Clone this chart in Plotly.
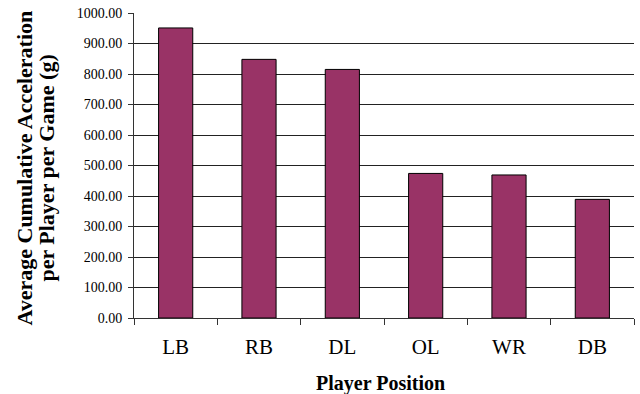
import plotly.graph_objects as go

positions = ["LB", "RB", "DL", "OL", "WR", "DB"]
accel = [951, 848, 815, 474, 469, 389]
y_ticks = [0, 100, 200, 300, 400, 500, 600, 700, 800, 900, 1000]

FONT = "Liberation Serif"

fig = go.Figure(go.Bar(
    x=positions, y=accel,
    marker=dict(color="#993366", line=dict(color="black", width=1)),
))

fig.update_layout(
    width=640, height=394,
    margin=dict(l=134, r=6, t=13, b=76),
    paper_bgcolor="white", plot_bgcolor="white",
    bargap=0.59,
    showlegend=False,
    font=dict(family=FONT, color="black"),
    xaxis=dict(
        type="category",
        showline=True, linecolor="#333", linewidth=1,
        ticks="outside", tickson="boundaries", ticklen=6, tickcolor="#333",
        tickfont=dict(size=21, family=FONT),
        ticklabelstandoff=10,
        showgrid=False,
    ),
    yaxis=dict(
        range=[0, 1000],
        tickvals=y_ticks, tickformat=".2f",
        showline=True, linecolor="#333", linewidth=1,
        ticks="outside", ticklen=5, tickcolor="#333",
        tickfont=dict(size=14, family=FONT),
        ticklabelstandoff=3,
        showgrid=True, gridcolor="#222", gridwidth=1,
        zeroline=False,
    ),
    annotations=[
        dict(text="<b>Average Cumulative Acceleration</b>", textangle=-90,
             xref="paper", yref="paper", x=(25 - 134) / 500, y=0.49,
             xanchor="center", yanchor="middle", showarrow=False,
             font=dict(size=22, family=FONT, color="black")),
        dict(text="<b>per Player per Game (g)</b>", textangle=-90,
             xref="paper", yref="paper", x=(47 - 134) / 500, y=0.49,
             xanchor="center", yanchor="middle", showarrow=False,
             font=dict(size=22, family=FONT, color="black")),
        dict(text="<b>Player Position</b>",
             xref="paper", yref="paper", x=(380 - 134) / 500, y=-(383 - 318) / 305,
             xanchor="center", yanchor="middle", showarrow=False,
             font=dict(size=20, family=FONT, color="black")),
    ],
)

fig.write_html("out.html")
